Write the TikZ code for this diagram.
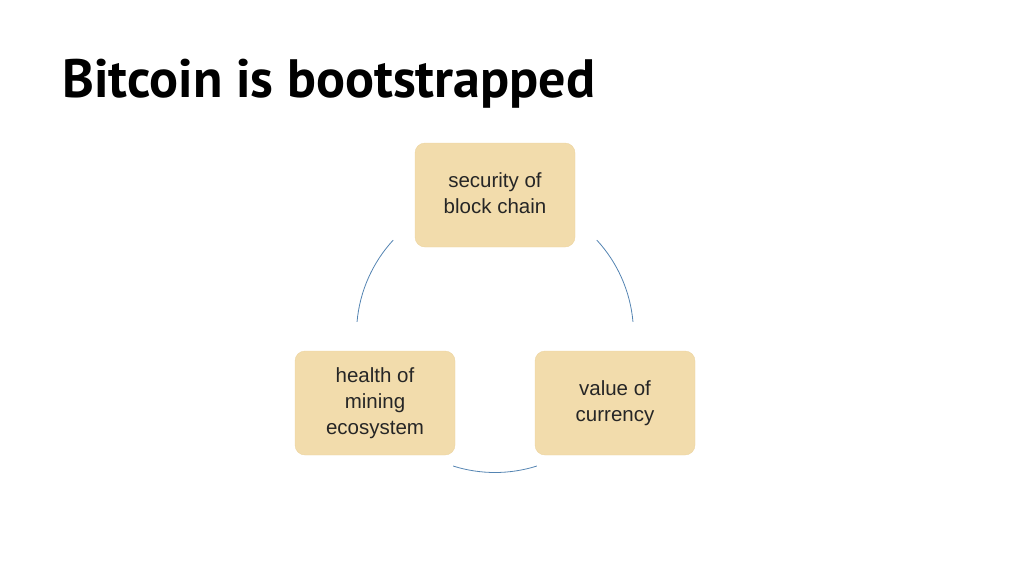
\documentclass[tikz,border=0pt]{standalone}
\usepackage{fontspec}
\setmainfont{Liberation Sans}
\newfontfamily\titlefont{PT Sans}
\definecolor{boxfill}{RGB}{242,220,172}
\definecolor{boxline}{RGB}{236,212,160}
\definecolor{arcblue}{RGB}{84,132,178}
\tikzset{
  stage/.style={draw=boxline, fill=boxfill, rounded corners=10pt, minimum width=160pt,
    minimum height=104pt, align=center, font=\fontsize{20.5}{26}\selectfont, text=black!85},
  cyclearc/.style={draw=arcblue, line width=0.8pt}
}
\begin{document}
\begin{tikzpicture}[x=1pt, y=-1pt]
  \useasboundingbox (0,0) rectangle (1024,576);
  \node[anchor=base west, inner sep=0pt, font=\titlefont\bfseries\fontsize{54}{60}\selectfont] (title) at (62,97) {Bitcoin is bootstrapped};

  \node[stage] (security) at (495,195) {\raisebox{4pt}{\begin{tabular}{@{}c@{}}security of\\block chain\end{tabular}}};
  \node[stage] (health) at (375,403) {\raisebox{4pt}{\begin{tabular}{@{}c@{}}health of\\mining\\ecosystem\end{tabular}}};
  \node[stage] (value) at (615,403) {\raisebox{4pt}{\begin{tabular}{@{}c@{}}value of\\currency\end{tabular}}};

  \coordinate (hub) at (495,334);
  \draw[cyclearc] ([shift={(-42.7:138.5)}]hub) arc[start angle=-42.7, end angle=-5, radius=138.5];
  \draw[cyclearc] ([shift={(72.4:138.5)}]hub) arc[start angle=72.4, end angle=107.6, radius=138.5];
  \draw[cyclearc] ([shift={(185:138.5)}]hub) arc[start angle=185, end angle=222.7, radius=138.5];
\end{tikzpicture}
\end{document}
